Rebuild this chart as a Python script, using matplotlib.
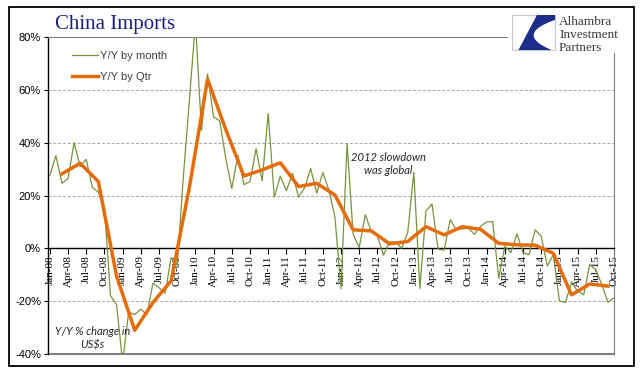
import numpy as np
import matplotlib
matplotlib.use("Agg")
import matplotlib.pyplot as plt
from matplotlib.patches import Rectangle, Polygon

# China imports, Y/Y % change in US$ (monthly Jan-08 .. Oct-15)
monthly_yoy = [
    27.6, 35.1, 24.6, 26.4, 40.0, 31.0, 33.7, 23.1, 21.3, 15.6, -17.9, -21.3,   # 2008
    -43.1, -24.1, -25.1, -23.0, -25.2, -13.2, -14.9, -17.0, -3.5, -6.4, 26.7, 55.9,  # 2009
    85.5, 44.7, 66.0, 49.7, 48.3, 34.1, 22.7, 35.2, 24.1, 25.3, 37.7, 25.6,   # 2010
    51.0, 19.4, 27.3, 21.8, 28.4, 19.3, 22.9, 30.2, 20.9, 28.7, 22.1, 11.8,   # 2011
    -15.3, 39.6, 5.3, 0.3, 12.7, 6.3, 4.7, -2.6, 2.4, 2.4, 0.0, 6.0,          # 2012
    28.8, -15.2, 14.1, 16.8, -0.3, -0.7, 10.9, 7.0, 7.4, 7.6, 5.3, 8.3,       # 2013
    10.0, 10.1, -11.3, 0.8, -1.6, 5.5, -1.6, -2.4, 7.0, 4.6, -6.7, -2.4,      # 2014
    -19.9, -20.5, -12.7, -16.2, -17.6, -6.1, -8.1, -13.8, -20.4, -18.8,       # 2015
]

# quarterly Y/Y, Q1-08 .. Q3-15 (plotted at last month of quarter)
quarterly_yoy = [
    28.2, 32.2, 25.3, -10.5,
    -31.0, -20.5, -12.3, 23.0,
    64.0, 45.0, 27.4, 29.7,
    32.4, 23.4, 24.6, 20.2,
    7.0, 6.6, 1.7, 2.6,
    8.2, 5.1, 8.2, 7.2,
    1.9, 1.3, 1.2, -1.9,
    -17.6, -13.5, -14.3,
]

years = ["08", "09", "10", "11", "12", "13", "14", "15"]
quarter_months = ["Jan", "Apr", "Jul", "Oct"]
tick_labels = [f"{m}-{y}" for y in years for m in quarter_months]
y_ticks = [-40, -20, 0, 20, 40, 60, 80]

green = "#77933C"
orange = "#E46C0A"

m_idx = np.arange(len(monthly_yoy))
q_idx = np.arange(len(quarterly_yoy)) * 3 + 2

fig = plt.figure(figsize=(6.41, 3.79), dpi=100)
ax = fig.add_axes([48 / 641, 1 - 354 / 379, 566 / 641, 317 / 379])

ax.plot(m_idx, monthly_yoy, color=green, lw=0.9, label="Y/Y by month", zorder=3)
ax.plot(q_idx, quarterly_yoy, color=orange, lw=2.5, label="Y/Y by Qtr", zorder=4)

ax.set_xlim(-0.3, 93)
ax.set_ylim(-40, 80)

# grid
for v in [-20, 20, 40, 60]:
    ax.axhline(v, color="#A6A6A6", lw=0.7, ls=(0, (3, 2)), zorder=1)

ax.spines["bottom"].set_position(("data", 0))
ax.spines["bottom"].set_color("black")
ax.spines["bottom"].set_linewidth(1.0)
ax.spines["left"].set_color("black")
ax.spines["left"].set_linewidth(1.0)
ax.spines["top"].set_color("#808080")
ax.spines["right"].set_color("#808080")
ax.axhline(-40, color="#808080", lw=1.5, zorder=2, clip_on=False)

ax.set_xticks(np.arange(len(tick_labels)) * 3)
ax.set_xticklabels(tick_labels, rotation=90, family="Liberation Serif", fontsize=8)
ax.tick_params(axis="x", direction="out", length=4, pad=1, width=0.8)

ax.set_yticks(y_ticks)
ax.set_yticklabels([f"{v}%" for v in y_ticks], family="Liberation Sans", fontsize=8)
ax.tick_params(axis="y", direction="out", length=3, pad=2, width=0.8)

leg = ax.legend(loc="upper left", bbox_to_anchor=(0.042, 0.955), frameon=False,
                borderaxespad=0, borderpad=0, handlelength=2.4, handletextpad=0.1,
                labelspacing=1.0, prop={"family": "Liberation Sans", "size": 8})
for t in leg.get_texts():
    t.set_color("#404040")

ax.text(55.8, 32, "2012 slowdown\nwas global", ha="center", va="center", style="italic",
        fontsize=8, color="#262626", family="Lato", linespacing=1.2)
ax.text(7, -34, "Y/Y % change in\nUS$s", ha="center", va="center", style="italic",
        fontsize=8, color="#262626", family="Lato", linespacing=1.2)

# title
fig.text(55 / 641, 1 - 29 / 379, "China Imports", family="Liberation Serif",
         fontsize=15, color="#1F1F7A", ha="left", va="baseline")

# logo block
fig.add_artist(Rectangle((508 / 641, 1 - 53 / 379), 126 / 641, 45 / 379,
                         transform=fig.transFigure, facecolor="white",
                         edgecolor="none", zorder=5))
lx0, ly0, lw_, lh_ = 512 / 641, 1 - 50 / 379, 43 / 641, 35 / 379
fig.add_artist(Rectangle((lx0, ly0), lw_, lh_, transform=fig.transFigure,
                         facecolor="white", edgecolor="#C8C8C8", lw=0.8, zorder=6))
# swoosh: top edge, then curved white bite on the right, down to the bottom edge
s = np.linspace(0, 1, 25)
p0, p1, p2 = np.array([1.0, 0.86]), np.array([0.05, 0.45]), np.array([0.92, 0.0])
bite = [tuple((1 - u) ** 2 * p0 + 2 * (1 - u) * u * p1 + u ** 2 * p2) for u in s]
pts = [(0.58, 1.0), (1.0, 1.0)] + bite + [(0.15, 0.0)]
pts = [(lx0 + px * lw_, ly0 + py * lh_) for px, py in pts]
fig.add_artist(Polygon(pts, closed=True, transform=fig.transFigure,
                       facecolor="#1B2F8A", edgecolor="none", zorder=7))
for i, word in enumerate(["Alhambra", "Investment", "Partners"]):
    fig.text(559 / 641, 1 - (25 + 13 * i) / 379, word, family="Liberation Serif",
             fontsize=9.5, color="#3A3A3A", ha="left", va="baseline", zorder=8)

# outer frame
fig.add_artist(Rectangle((9 / 641, 1 - 366 / 379), 625 / 641, 359 / 379,
                         transform=fig.transFigure, fill=False,
                         edgecolor="black", lw=1.3, zorder=9))

fig.savefig("out.png", dpi=100)
